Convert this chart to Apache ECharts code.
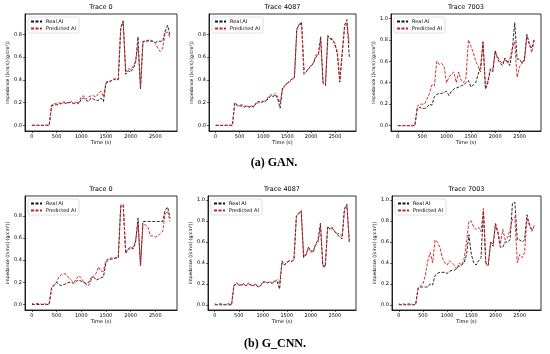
<!DOCTYPE html>
<html><head><meta charset="utf-8">
<script src="https://cdn.jsdelivr.net/npm/echarts@6/dist/echarts.min.js"></script>
<style>html,body{margin:0;padding:0;background:#fff}#c{width:550px;height:354px}</style>
</head><body><div id="c"></div>
<script>
const timeS = [0,50,100,150,200,250,300,350,400,450,500,550,600,650,700,750,800,850,900,950,1000,1050,1100,1150,1200,1250,1300,1350,1400,1450,1500,1550,1600,1650,1700,1750,1800,1850,1900,1950,2000,2050,2100,2150,2200,2250,2300,2350,2400,2450,2500,2550,2600,2650,2700,2750,2800];
const xTicks = [0,500,1000,1500,2000,2500];
const yTicks08 = [0,0.2,0.4,0.6,0.8];
const yTicks10 = [0,0.2,0.4,0.6,0.8,1.0];
const titles = ["Trace 0","Trace 4087","Trace 7003","Trace 0","Trace 4087","Trace 7003"];
const captions = ["(a) GAN.","(b) G_CNN."];

// GAN
const ganReal0 = [0,0,0,0,0,0,0,0, 0.17,0.18,0.18,0.19,0.19,0.2,0.19,0.2,0.2,0.19,0.2,0.19, 0.23,0.24,0.22,0.21,0.24,0.23,0.22,0.22,0.24,0.21, 0.37,0.38,0.39,0.40,0.41,0.40, 0.86,0.92, 0.45,0.48,0.47,0.5,0.55,0.78, 0.32, 0.74,0.74,0.75,0.74,0.74,0.73,0.74,0.74,0.74, 0.83,0.88,0.79];
const ganPred0 = [0,0,0,0,0,0,0,0, 0.18,0.19,0.19,0.2,0.19,0.21,0.2,0.2,0.21,0.19,0.21,0.2, 0.25,0.26,0.23,0.25,0.26,0.26,0.25,0.28,0.3,0.25, 0.38,0.39,0.39,0.41,0.40,0.41, 0.85,0.91, 0.47,0.5,0.49,0.52,0.56,0.7, 0.34, 0.73,0.74,0.74,0.75,0.74,0.72,0.68,0.65,0.68, 0.82,0.82,0.77];
const ganReal4087 = [0,0,0,0,0,0,0,0, 0.2,0.18,0.17,0.17,0.16,0.17,0.16,0.17,0.16,0.2,0.21,0.2, 0.21,0.22,0.23,0.26,0.25,0.27,0.23,0.15,0.33,0.35, 0.37,0.39,0.41,0.42, 0.85,0.88,0.91, 0.45,0.47,0.5,0.52,0.55,0.6,0.62, 0.78, 0.37,0.35, 0.79,0.76,0.75,0.72,0.62, 0.38, 0.62, 0.88,0.93, 0.6];
const ganPred4087 = [0,0,0,0,0,0,0,0, 0.19,0.17,0.18,0.18,0.17,0.17,0.16,0.17,0.17,0.19,0.2,0.2, 0.22,0.21,0.25,0.27,0.26,0.28,0.25,0.2,0.32,0.34, 0.38,0.38,0.4,0.43, 0.84,0.9,0.88, 0.5,0.48,0.5,0.53,0.55,0.62,0.62, 0.75, 0.38,0.37, 0.78,0.77,0.76,0.7,0.65, 0.4, 0.64, 0.85,0.9, 0.72];
const ganReal7003 = [0,0,0,0,0,0,0,0, 0.16,0.17,0.16,0.16,0.17,0.2,0.19,0.27,0.29,0.3,0.3,0.31, 0.32,0.28,0.32,0.34,0.35,0.36,0.37,0.38,0.4,0.42, 0.36,0.38,0.4,0.48,0.55, 0.78, 0.34,0.4, 0.52,0.5,0.7,0.62,0.58,0.56,0.63,0.6,0.56, 0.7, 0.96, 0.62,0.62,0.58,0.62, 0.85,0.76,0.72,0.8];
const ganPred7003 = [0,0,0,0,0,0,0,0, 0.18,0.2,0.2,0.2,0.25,0.3,0.38,0.37,0.6,0.57,0.58,0.55, 0.4,0.45,0.48,0.5,0.4,0.5,0.42,0.4,0.45,0.8, 0.74,0.68,0.6,0.55,0.5, 0.78, 0.36,0.42, 0.53,0.52,0.68,0.64,0.6,0.58,0.62,0.58,0.62, 0.72, 0.78, 0.45,0.55,0.58,0.6, 0.84,0.76,0.68,0.8];
// G_CNN
const cnnReal0 = [0,0,0,0,0,0,0,0, 0.15,0.17,0.2,0.18,0.17,0.18,0.19,0.2,0.2,0.19,0.21,0.22, 0.21,0.2,0.19,0.2,0.24,0.25,0.22,0.23,0.24,0.25, 0.38,0.4,0.41,0.41,0.42,0.42, 0.88,0.9, 0.46,0.5,0.52,0.5,0.56,0.78, 0.35, 0.75,0.75,0.75,0.75,0.75,0.75,0.75,0.75,0.75, 0.85,0.88,0.78];
const cnnPred0 = [0.01,0,0.01,0.01,0,0.01,0,0.01, 0.16,0.18,0.2,0.25,0.27,0.28,0.27,0.24,0.22,0.2,0.23,0.26, 0.24,0.2,0.18,0.17,0.22,0.26,0.28,0.34,0.3,0.3, 0.4,0.41,0.42,0.42,0.42,0.43, 0.9,0.9, 0.48,0.5,0.5,0.52,0.57,0.74, 0.35, 0.72,0.72,0.7,0.62,0.62,0.61,0.62,0.64,0.66, 0.82,0.84,0.75];
const cnnReal4087 = [0,0,0,0,0,0,0,0, 0.18,0.2,0.19,0.18,0.2,0.18,0.2,0.19,0.18,0.2,0.17,0.18, 0.21,0.22,0.21,0.22,0.2,0.23,0.22,0.15,0.42,0.38, 0.4,0.42,0.41,0.44, 0.85,0.88,0.9, 0.45,0.48,0.55,0.52,0.5,0.58,0.62, 0.78, 0.37,0.36, 0.75,0.72,0.73,0.7,0.67, 0.65, 0.63, 0.92,0.96, 0.6];
const cnnPred4087 = [0.01,0,0.01,0.01,0,0.01,0.01,0, 0.19,0.21,0.2,0.19,0.2,0.18,0.21,0.19,0.18,0.2,0.17,0.18, 0.22,0.22,0.21,0.22,0.21,0.22,0.24,0.2,0.4,0.38, 0.41,0.42,0.42,0.43, 0.85,0.87,0.89, 0.48,0.47,0.55,0.5,0.52,0.57,0.6, 0.75, 0.38,0.37, 0.74,0.73,0.74,0.7,0.68, 0.68, 0.65, 0.9,0.95, 0.62];
const cnnReal7003 = [0,0,0,0,0,0,0,0, 0.16,0.17,0.17,0.17,0.17,0.2,0.19,0.28,0.3,0.31,0.31,0.31, 0.3,0.32,0.33,0.33,0.35,0.37,0.38,0.4,0.48,0.67, 0.48,0.4,0.38,0.42,0.45,0.9, 0.4,0.38, 0.6,0.56,0.77,0.68,0.55,0.55,0.6,0.6,0.62, 0.97,0.98, 0.62,0.62,0.6,0.62, 0.86,0.76,0.72,0.74];
const cnnPred7003 = [0.01,0,0.01,0,0.01,0.01,0,0.01, 0.16,0.18,0.2,0.28,0.42,0.5,0.4,0.62,0.6,0.55,0.45,0.4, 0.38,0.42,0.4,0.38,0.34,0.4,0.38,0.44,0.6,0.8, 0.8,0.74,0.72,0.74,0.7,0.92, 0.38,0.38, 0.6,0.58,0.78,0.7,0.58,0.72,0.62,0.64,0.72, 0.82,0.84, 0.4,0.48,0.45,0.5, 0.82,0.78,0.7,0.76];

const realSets = [ganReal0, ganReal4087, ganReal7003, cnnReal0, cnnReal4087, cnnReal7003];
const predSets = [ganPred0, ganPred4087, ganPred7003, cnnPred0, cnnPred4087, cnnPred7003];
const yTickSets = [yTicks08, yTicks08, yTicks10, yTicks08, yTicks10, yTicks10];

const grids = [
  {left:25, top:14, width:152, height:117},
  {left:209, top:14, width:147, height:117},
  {left:391, top:14, width:150, height:117},
  {left:25, top:196, width:152, height:114},
  {left:208, top:196, width:148, height:114},
  {left:392, top:196, width:149, height:114}
];
const FONT = 'DejaVu Sans';
const pairs = (vals) => timeS.map((t,i)=>[t, vals[i]]);

const option = {
  animation:false,
  backgroundColor:'#fff',
  grid: grids.map(g=>Object.assign({show:true, borderColor:'#000', borderWidth:0.8, backgroundColor:'#fff'}, g)),
  title: grids.map((g,i)=>({
    text: titles[i], left: g.left + g.width/2, top: g.top - 10, textAlign:'center', padding:0,
    textStyle:{fontFamily:FONT, fontSize:6.5, fontWeight:'normal', color:'#000'}
  })),
  legend: grids.map((g,i)=>({
    data:['Real AI','Predicted AI'], orient:'vertical', left:g.left+3, top:g.top+3,
    itemWidth:11, itemHeight:4, itemGap:2, padding:[2,3,2,2],
    backgroundColor:'rgba(255,255,255,0.8)', borderColor:'#ccc', borderWidth:0.6, borderRadius:2,
    itemStyle:{opacity:0},
    textStyle:{fontFamily:FONT, fontSize:5, color:'#000', padding:[0,0,0,-1]},
    selectedMode:false
  })),
  xAxis: grids.map((g,i)=>({
    type:'value', gridIndex:i, min:-140, max:2940,
    name:'Time (s)', nameLocation:'middle', nameGap:8,
    nameTextStyle:{fontFamily:FONT, fontSize:5, color:'#000'},
    axisLine:{show:true, onZero:false, lineStyle:{color:'#000', width:0.8}},
    axisTick:{show:true, length:2, customValues:xTicks, lineStyle:{color:'#000', width:0.6}},
    axisLabel:{show:true, customValues:xTicks, fontFamily:FONT, fontSize:5, color:'#000', margin:3,
      formatter:(v)=>String(v)},
    splitLine:{show:false}
  })),
  yAxis: grids.map((g,i)=>({
    type:'value', gridIndex:i, min:-0.05, max: yTickSets[i].length===6 ? 1.04 : 0.98,
    name:'Impedance ((km/s)·(g/cm³))', nameLocation:'middle', nameGap:13,
    nameTextStyle:{fontFamily:FONT, fontSize:4.5, color:'#000'},
    axisLine:{show:true, onZero:false, lineStyle:{color:'#000', width:0.8}},
    axisTick:{show:true, length:2, customValues:yTickSets[i], lineStyle:{color:'#000', width:0.6}},
    axisLabel:{show:true, customValues:yTickSets[i], fontFamily:FONT, fontSize:5, color:'#000', margin:3,
      formatter:(v)=>v.toFixed(1)},
    splitLine:{show:false}
  })),
  series: []
};
grids.forEach((g,i)=>{
  option.series.push({
    name:'Real AI', type:'line', xAxisIndex:i, yAxisIndex:i, data:pairs(realSets[i]),
    showSymbol:false, symbol:'none', color:'#111',
    lineStyle:{color:'#111', width:0.9, type:[3,1.5]}
  });
  option.series.push({
    name:'Predicted AI', type:'line', xAxisIndex:i, yAxisIndex:i, data:pairs(predSets[i]),
    showSymbol:false, symbol:'none', color:'#d7191c',
    lineStyle:{color:'#d7191c', width:0.9, type:[3,1.5]}
  });
});
option.graphic = [
  {type:'text', x:274, y:163, style:{text:captions[0], font:'bold 12px "Liberation Serif"', fill:'#000', align:'center', verticalAlign:'middle'}},
  {type:'text', x:275, y:344, style:{text:captions[1], font:'bold 12px "Liberation Serif"', fill:'#000', align:'center', verticalAlign:'middle'}}
];
const chart = echarts.init(document.getElementById('c'), null, {renderer:'canvas'});
chart.setOption(option);
</script></body></html>
